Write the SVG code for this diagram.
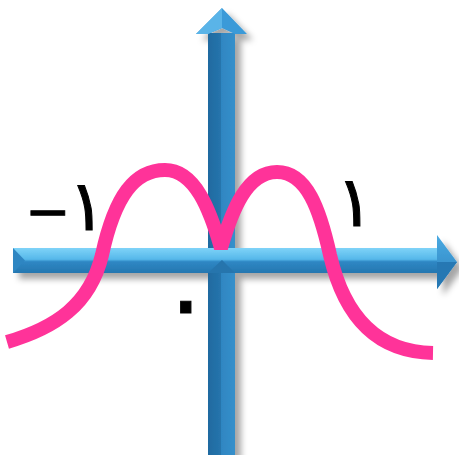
<svg xmlns="http://www.w3.org/2000/svg" width="459" height="455" viewBox="0 0 459 455">
<defs>
<filter id="sh" x="-20%" y="-20%" width="140%" height="140%">
<feDropShadow dx="6" dy="6" stdDeviation="3" flood-color="#000" flood-opacity="0.35"/>
</filter>
<linearGradient id="gv" x1="0" y1="0" x2="1" y2="0">
<stop offset="0" stop-color="#1f6aa0"/>
<stop offset="0.5" stop-color="#2675ad"/>
<stop offset="0.5" stop-color="#2f86c2"/>
<stop offset="1" stop-color="#3690cb"/>
</linearGradient>
<linearGradient id="gh" x1="0" y1="0" x2="0" y2="1">
<stop offset="0" stop-color="#7fd3f8"/>
<stop offset="0.45" stop-color="#56b8ea"/>
<stop offset="0.55" stop-color="#2f87c4"/>
<stop offset="1" stop-color="#2577b0"/>
</linearGradient>
<linearGradient id="ghead" x1="0" y1="0" x2="0" y2="1">
<stop offset="0" stop-color="#4aaae2"/>
<stop offset="1" stop-color="#2a80bd"/>
</linearGradient>
<style>
.lbl{font-family:"DejaVu Sans","Noto Sans",sans-serif;fill:#000;stroke:#000;stroke-width:1}
.curve{fill:none;stroke:#ff3399;stroke-width:14;stroke-linecap:butt;stroke-linejoin:bevel}
</style>
</defs>
<g id="connectors" filter="url(#sh)">
<g id="y-axis">
<rect x="208" y="33" width="27" height="422" fill="url(#gv)"/>
<polygon points="222,8 247,34 235,34 222,28 208,34 196,34" fill="#3a9ad8"/>
<polygon points="222,8 196,34 208,34 222,28" fill="#5ab4e8"/>
</g>
<g id="x-axis">
<rect x="13" y="248" width="425" height="25" fill="url(#gh)"/>
<polygon points="13,248 25,260.5 13,273" fill="#2f86c2"/>
<polygon points="208,273 222,260 235,273" fill="#2675ad"/>
<polygon points="437,235 457,262 437,289" fill="url(#ghead)"/>
<polygon points="437,262 457,262 437,289" fill="#2578b3"/>
</g>
</g>
<g id="curve">
<path class="curve" d="M7,342 C55,328 90,305 102,255 C115,195 135,170 165,170 C195,170 210,210 221,248 C232,210 247,172 277,172 C307,172 320,210 330,255 C345,320 380,352 433,353"/>
</g>
<g id="labels">
<text id="label-neg1" class="lbl" x="25" y="230"><tspan font-size="54">−</tspan><tspan font-size="70" dx="-2">١</tspan></text>
<text id="label-1" class="lbl" x="336" y="226" font-size="70">١</text>
<text id="label-0" class="lbl" x="160" y="334" font-size="96">٠</text>
</g>
</svg>
